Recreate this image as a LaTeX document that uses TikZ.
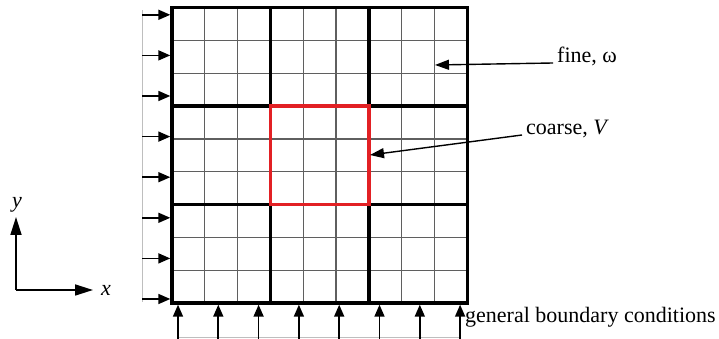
\documentclass[tikz,border=0pt]{standalone}
\usepackage{fontspec}
\setmainfont{Liberation Serif}
\usetikzlibrary{arrows.meta}
\definecolor{Cred}{RGB}{226,32,36}
\definecolor{Fgray}{RGB}{95,95,95}
\definecolor{Lgray}{RGB}{190,190,190}
\tikzset{
  bcarrow/.style={line width=1.7pt,-{Triangle[length=12pt,width=10pt]}},
  notearrow/.style={line width=1.4pt,-{Triangle[length=14pt,width=10pt]}},
  axarrow/.style={line width=1.7pt,-{Triangle[length=18pt,width=11pt]}},
  lab/.style={inner xsep=4pt,inner ysep=0pt,font=\fontsize{22}{26}\selectfont}
}
\begin{document}
\begin{tikzpicture}[x=1pt,y=1pt,line cap=butt,line join=miter]
\path[use as bounding box] (0,0) rectangle (719,339);
% fine mesh
\draw[line width=1.1pt,Fgray,step=32.8pt,shift={(172,36)}] (0,0) grid (295.2,295.2);
% coarse mesh
\draw[line width=3.4pt] (172,36) rectangle (467.2,331.2);
\draw[line width=3.4pt] (270.4,36) -- (270.4,331.2);
\draw[line width=3.4pt] (368.8,36) -- (368.8,331.2);
\draw[line width=3.4pt] (172,134.4) -- (467.2,134.4);
\draw[line width=3.4pt] (172,232.8) -- (467.2,232.8);
\draw[line width=3.4pt,Cred] (270.4,134.4) rectangle (368.8,232.8);
% left boundary
\draw[line width=1pt,Lgray] (142,37) -- (142,329);
\coordinate (L1s) at (142,40.0); \coordinate (L1e) at (170.3,40.0);
\coordinate (L2s) at (142,80.6); \coordinate (L2e) at (170.3,80.6);
\coordinate (L3s) at (142,121.2); \coordinate (L3e) at (170.3,121.2);
\coordinate (L4s) at (142,161.8); \coordinate (L4e) at (170.3,161.8);
\coordinate (L5s) at (142,202.4); \coordinate (L5e) at (170.3,202.4);
\coordinate (L6s) at (142,243.0); \coordinate (L6e) at (170.3,243.0);
\coordinate (L7s) at (142,283.6); \coordinate (L7e) at (170.3,283.6);
\coordinate (L8s) at (142,324.2); \coordinate (L8e) at (170.3,324.2);
\draw[bcarrow] (L1s) -- (L1e);
\draw[bcarrow] (L2s) -- (L2e);
\draw[bcarrow] (L3s) -- (L3e);
\draw[bcarrow] (L4s) -- (L4e);
\draw[bcarrow] (L5s) -- (L5e);
\draw[bcarrow] (L6s) -- (L6e);
\draw[bcarrow] (L7s) -- (L7e);
\draw[bcarrow] (L8s) -- (L8e);
% bottom boundary
\draw[line width=1pt,Lgray] (178,1.5) -- (460,1.5);
\coordinate (B1s) at (178.0,0); \coordinate (B1e) at (178.0,34.3);
\coordinate (B2s) at (218.3,0); \coordinate (B2e) at (218.3,34.3);
\coordinate (B3s) at (258.6,0); \coordinate (B3e) at (258.6,34.3);
\coordinate (B4s) at (298.9,0); \coordinate (B4e) at (298.9,34.3);
\coordinate (B5s) at (339.2,0); \coordinate (B5e) at (339.2,34.3);
\coordinate (B6s) at (379.5,0); \coordinate (B6e) at (379.5,34.3);
\coordinate (B7s) at (419.8,0); \coordinate (B7e) at (419.8,34.3);
\coordinate (B8s) at (460.1,0); \coordinate (B8e) at (460.1,34.3);
\draw[bcarrow] (B1s) -- (B1e);
\draw[bcarrow] (B2s) -- (B2e);
\draw[bcarrow] (B3s) -- (B3e);
\draw[bcarrow] (B4s) -- (B4e);
\draw[bcarrow] (B5s) -- (B5e);
\draw[bcarrow] (B6s) -- (B6e);
\draw[bcarrow] (B7s) -- (B7e);
\draw[bcarrow] (B8s) -- (B8e);
\node[lab,anchor=base west] (bclab) at (461,16) {general boundary conditions};
% labels
\node[lab,anchor=base west] (finelab) at (553,276) {fine, ω};
\coordinate (finept) at (435,274);
\draw[notearrow] (finelab.base west) -- (finept);
\node[lab,anchor=base west] (coarselab) at (522,204) {coarse, \textit{V}};
\coordinate (coarsept) at (370,184);
\draw[notearrow] (coarselab.base west) -- (coarsept);
% axes
\coordinate (O) at (16,49);
\coordinate (Xe) at (93,49);
\coordinate (Ye) at (16,122);
\draw[axarrow] (O) -- (Xe);
\draw[axarrow] (O) -- (Ye);
\node[lab,inner sep=0pt] (xlab) at (106,49) {\textit{x}};
\node[lab,inner sep=0pt] (ylab) at (17,134) {\textit{y}};
\end{tikzpicture}
\end{document}
